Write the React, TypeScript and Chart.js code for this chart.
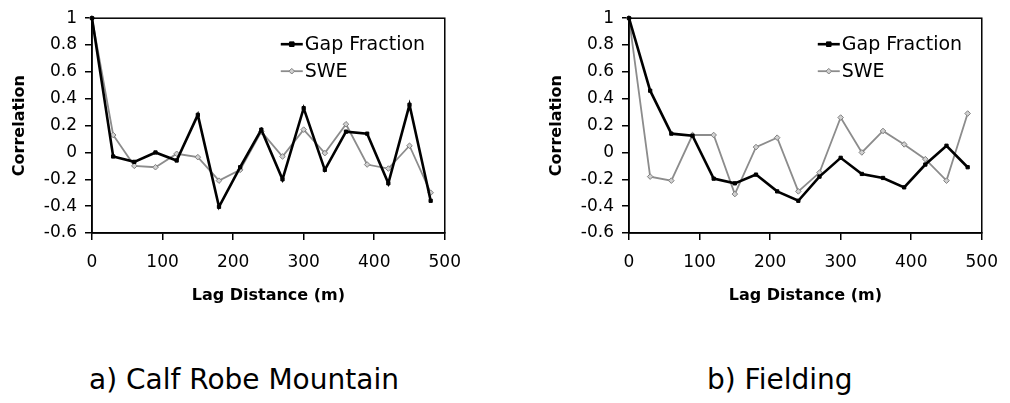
import React, { useEffect, useRef } from "react";
import { Chart, registerables } from "chart.js";

Chart.register(...registerables);

const lags = [0, 30, 60, 90, 120, 150, 180, 210, 240, 270, 300, 330, 360, 390, 420, 450, 480];
const gapCalf = [1, -0.03, -0.07, 0.0, -0.06, 0.28, -0.405, -0.11, 0.17, -0.2, 0.33, -0.13, 0.155, 0.14, -0.23, 0.355, -0.36];
const sweCalf = [1, 0.13, -0.1, -0.11, -0.01, -0.035, -0.21, -0.13, 0.155, -0.03, 0.17, -0.005, 0.21, -0.09, -0.12, 0.05, -0.3];
const gapField = [1, 0.46, 0.14, 0.125, -0.195, -0.23, -0.165, -0.29, -0.36, -0.18, -0.04, -0.16, -0.19, -0.26, -0.09, 0.05, -0.11];
const sweField = [1, -0.18, -0.21, 0.13, 0.13, -0.31, 0.04, 0.11, -0.29, -0.15, 0.26, 0.0, 0.16, 0.06, -0.05, -0.21, 0.29];

const seriesNames = ["Gap Fraction", "SWE"];
const xTitle = "Lag Distance (m)";
const yTitle = "Correlation";
const xMin = 0, xMax = 500, xStep = 100;
const yMin = -0.6, yMax = 1, yStep = 0.2;

const FONT = "DejaVu Sans";

const framePlugin = {
  id: "frame",
  afterDatasetsDraw(chart: any) {
    const { ctx, chartArea: a } = chart;
    ctx.save();
    ctx.strokeStyle = "#000";
    ctx.lineWidth = 1.5;
    ctx.strokeRect(a.left, a.top, a.right - a.left, a.bottom - a.top);
    ctx.restore();
  },
};

const legendPlugin = {
  id: "boxLegend",
  afterDraw(chart: any) {
    const { ctx, chartArea: a } = chart;
    const textX = a.right - 140;
    ctx.save();
    ctx.font = `19px "${FONT}"`;
    ctx.textBaseline = "alphabetic";
    ctx.textAlign = "left";
    chart.data.datasets.forEach((ds: any, i: number) => {
      const y = a.top + 32 + i * 27;
      const ly = y - 6;
      ctx.strokeStyle = ds.borderColor;
      ctx.lineWidth = ds.borderWidth;
      ctx.beginPath();
      ctx.moveTo(textX - 24, ly);
      ctx.lineTo(textX - 2, ly);
      ctx.stroke();
      ctx.fillStyle = ds.pointBackgroundColor;
      ctx.strokeStyle = ds.pointBorderColor;
      ctx.lineWidth = 1;
      const cx = textX - 13;
      const r = ds.pointRadius;
      ctx.beginPath();
      if (ds.pointStyle === "rectRot") {
        ctx.moveTo(cx, ly - r);
        ctx.lineTo(cx + r, ly);
        ctx.lineTo(cx, ly + r);
        ctx.lineTo(cx - r, ly);
        ctx.closePath();
      } else {
        ctx.rect(cx - r, ly - r, 2 * r, 2 * r);
      }
      ctx.fill();
      ctx.stroke();
      ctx.fillStyle = "#000";
      ctx.fillText(ds.label, textX, y);
    });
    ctx.restore();
  },
};

function fmt(v: number) {
  const n = Math.round(v * 10) / 10;
  return n === 0 ? "0" : String(n);
}

function Panel({ gap, swe, left }: { gap: number[]; swe: number[]; left: number }) {
  const ref = useRef<HTMLCanvasElement | null>(null);
  useEffect(() => {
    if (!ref.current) return;
    const chart = new Chart(ref.current, {
      type: "line",
      data: {
        datasets: [
          {
            label: seriesNames[0],
            data: lags.map((x, i) => ({ x, y: gap[i] })),
            borderColor: "#000",
            borderWidth: 2.6,
            pointStyle: "rect",
            pointRadius: 2.3,
            pointBackgroundColor: "#000",
            pointBorderColor: "#000",
            pointBorderWidth: 1,
            tension: 0,
            order: 1,
          },
          {
            label: seriesNames[1],
            data: lags.map((x, i) => ({ x, y: swe[i] })),
            borderColor: "#8c8c8c",
            borderWidth: 1.8,
            pointStyle: "rectRot",
            pointRadius: 2.8,
            pointBackgroundColor: "#d0d0d0",
            pointBorderColor: "#808080",
            pointBorderWidth: 1,
            tension: 0,
            order: 2,
          },
        ],
      },
      options: {
        responsive: false,
        animation: false,
        clip: false as any,
        layout: { padding: { left: 10, top: 17, right: 22, bottom: 5 } },
        plugins: {
          legend: { display: false },
          tooltip: { enabled: false },
        },
        scales: {
          x: {
            type: "linear",
            min: xMin,
            max: xMax,
            ticks: {
              stepSize: xStep,
              color: "#000",
              font: { family: FONT, size: 17 },
              padding: 12,
              maxRotation: 0,
            },
            grid: {
              display: true,
              drawOnChartArea: false,
              drawTicks: true,
              tickLength: 7,
              color: "#000",
              lineWidth: 1.5,
            },
            border: { display: true, color: "#000", width: 1.5 },
            title: {
              display: true,
              text: xTitle,
              color: "#000",
              font: { family: FONT, size: 16, weight: "bold" },
              padding: 0,
            },
            afterFit: (s: any) => {
              s.height = 72;
            },
          },
          y: {
            type: "linear",
            min: yMin,
            max: yMax,
            ticks: {
              stepSize: yStep,
              color: "#000",
              font: { family: FONT, size: 17 },
              padding: 8,
              callback: (v: any) => fmt(Number(v)),
            },
            grid: {
              display: true,
              drawOnChartArea: false,
              drawTicks: true,
              tickLength: 7,
              color: "#000",
              lineWidth: 1.5,
            },
            border: { display: true, color: "#000", width: 1.5 },
            title: {
              display: true,
              text: yTitle,
              color: "#000",
              font: { family: FONT, size: 16, weight: "bold" },
              padding: 0,
            },
            afterFit: (s: any) => {
              s.width = 82;
            },
          },
        },
      },
      plugins: [framePlugin, legendPlugin],
    } as any);
    return () => chart.destroy();
  }, [gap, swe]);
  return (
    <canvas
      ref={ref}
      width={473}
      height={310}
      style={{ position: "absolute", left, top: 0, width: 473, height: 310 }}
    />
  );
}

const captions = ["a) Calf Robe Mountain", "b) Fielding"];

export default function App() {
  const capStyle: React.CSSProperties = {
    position: "absolute",
    top: 366,
    fontFamily: FONT,
    fontSize: 28,
    lineHeight: "28px",
    color: "#000",
    whiteSpace: "nowrap",
  };
  return (
    <div
      style={{
        position: "fixed",
        left: 0,
        top: 0,
        width: 1010,
        height: 403,
        background: "#fff",
        overflow: "hidden",
      }}
    >
      <Panel gap={gapCalf} swe={sweCalf} left={0} />
      <Panel gap={gapField} swe={sweField} left={537} />
      <div style={{ ...capStyle, left: 89 }}>{captions[0]}</div>
      <div style={{ ...capStyle, left: 707 }}>{captions[1]}</div>
    </div>
  );
}
